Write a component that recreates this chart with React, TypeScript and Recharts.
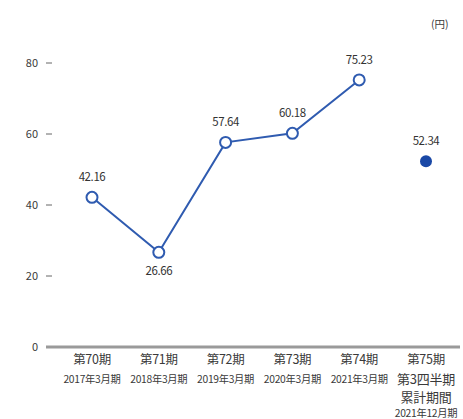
import React from "react";
import { LineChart, Line, XAxis, YAxis, ReferenceLine, LabelList } from "recharts";

const periods = ["第70期", "第71期", "第72期", "第73期", "第74期", "第75期"];
const subLabels = [
  ["2017年3月期"],
  ["2018年3月期"],
  ["2019年3月期"],
  ["2020年3月期"],
  ["2021年3月期"],
  ["第3四半期", "累計期間", "2021年12月期"],
];
const annualValues: (number | null)[] = [42.16, 26.66, 57.64, 60.18, 75.23, null];
const quarterValues: (number | null)[] = [null, null, null, null, null, 52.34];
const yTicks = [0, 20, 40, 60, 80];

const data = periods.map((p, i) => ({
  name: p,
  idx: i,
  annual: annualValues[i],
  q3: quarterValues[i],
}));

const FONT = "'Noto Sans CJK JP', 'Noto Sans', sans-serif";
const TEXT = "#3a3a3a";
const BLUE = "#2f5bb0";
const DARK = "#1a48a6";

const XTick = (props: any) => {
  const { x, y, payload } = props;
  const i = data.findIndex((d) => d.name === payload.value);
  const subs = subLabels[i] || [];
  return (
    <g>
      <text x={x} y={y + 17} textAnchor="middle" fontSize={12.5} fill={TEXT} fontFamily={FONT} letterSpacing={-0.3}>
        {payload.value}
      </text>
      {subs.map((s, k) => {
        const big = subs.length > 1 && k < subs.length - 1;
        const dy = subs.length > 1 ? [37, 55, 70][k] : 36;
        return (
          <text
            key={k}
            x={x}
            y={y + dy}
            textAnchor="middle"
            fontSize={big ? 13 : 10.3}
            fill={TEXT}
            fontFamily={FONT}
            letterSpacing={big ? -0.2 : -0.3}
          >
            {s}
          </text>
        );
      })}
    </g>
  );
};

const YTick = (props: any) => {
  const { x, y, payload } = props;
  return (
    <g>
      {payload.value !== 0 && <line x1={x} x2={x + 6} y1={y} y2={y} stroke="#666" strokeWidth={1} />}
      <text x={x - 8} y={y + 4} textAnchor="end" fontSize={11} fill={TEXT} fontFamily={FONT}>
        {payload.value}
      </text>
    </g>
  );
};

const ValueLabel = (props: any) => {
  const { x, y, value, index } = props;
  if (value == null) return null;
  const below = index === 1;
  return (
    <text
      x={x}
      y={below ? y + 23 : y - 16}
      textAnchor="middle"
      fontSize={11.5}
      fill="#333"
      fontFamily={FONT}
      letterSpacing={-0.4}
    >
      {value.toFixed(2)}
    </text>
  );
};

export default function App() {
  return (
    <div style={{ position: "absolute", left: 0, top: 0, width: 463, height: 419, background: "#fff" }}>
      <LineChart width={463} height={419} data={data} margin={{ top: 63, right: 3, left: 0, bottom: 0 }}>
        <XAxis
          dataKey="name"
          axisLine={false}
          tickLine={false}
          tickSize={0}
          tickMargin={0}
          height={72}
          interval={0}
          padding={{ left: 46, right: 34 }}
          tick={<XTick />}
        />
        <YAxis
          domain={[0, 80]}
          ticks={yTicks}
          axisLine={false}
          tickLine={false}
          tickSize={0}
          tickMargin={0}
          width={46}
          tick={<YTick />}
        />
        <ReferenceLine y={0} stroke="#9a9a9a" strokeWidth={3} />
        <Line
          dataKey="annual"
          stroke={BLUE}
          strokeWidth={2}
          isAnimationActive={false}
          connectNulls={false}
          dot={{ r: 5.5, fill: "#fff", stroke: BLUE, strokeWidth: 2 }}
        >
          <LabelList dataKey="annual" content={<ValueLabel />} />
        </Line>
        <Line
          dataKey="q3"
          stroke="none"
          isAnimationActive={false}
          dot={{ r: 6, fill: DARK, stroke: DARK, strokeWidth: 0 }}
        >
          <LabelList dataKey="q3" content={<ValueLabel />} />
        </Line>
      </LineChart>
      <div
        style={{
          position: "absolute",
          left: 431,
          top: 16,
          fontSize: 10.5,
          color: TEXT,
          fontFamily: FONT,
        }}
      >
        (円)
      </div>
    </div>
  );
}
